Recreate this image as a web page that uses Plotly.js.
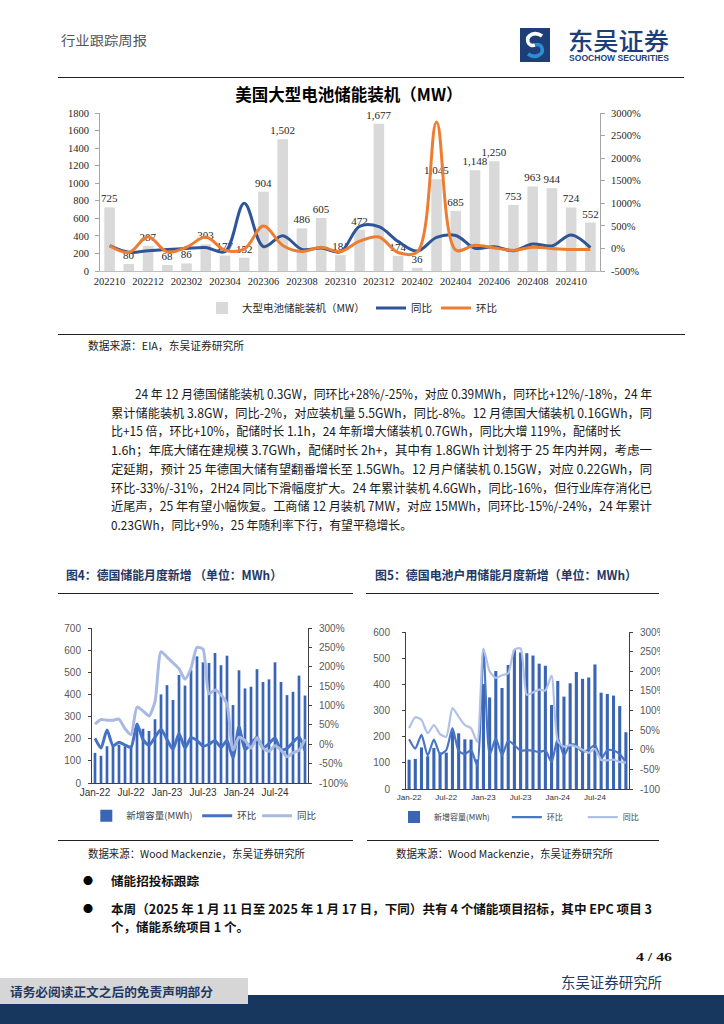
<!DOCTYPE html>
<html><head><meta charset="utf-8">
<script src="https://cdn.plot.ly/plotly-3.0.1.min.js"></script>
<style>
html,body{margin:0;padding:0;background:#fff}
body{width:724px;height:1024px;position:relative;overflow:hidden;font-family:"Noto Sans CJK SC","Noto Sans",sans-serif;color:#111}
.t{position:absolute;white-space:nowrap;height:20px;line-height:20px;transform-origin:0 50%}
.rule{position:absolute;height:0;border-top:1.5px solid #222}
.chart{position:absolute;overflow:hidden}
</style></head><body>

<!-- header -->
<div class="t" data-cy="40" data-w="86" style="left:61px;font-size:13px;color:#555">行业跟踪周报</div>
<svg style="position:absolute;left:520px;top:28px" width="30" height="34" viewBox="0 0 30 34">
  <rect x="0" y="0" width="30" height="34" fill="#1D3E77"/>
  <path d="M22,8 C15,3 6,7 8,14 C9,17 12,18 15,17" stroke="#fff" stroke-width="3.6" fill="none"/>
  <path d="M8,26 C15,31 24,27 22,20 C21,17 18,16 15,17" stroke="#2B8ED6" stroke-width="3.6" fill="none"/>
</svg>
<div class="t" data-cy="40" data-w="101" style="left:568px;font-size:24px;height:24px;line-height:24px;color:#1C3F7C;font-weight:500">东吴证券</div>
<div class="t" data-cy="58" data-w="100" style="left:569px;font-size:8.5px;height:10px;line-height:10px;color:#1C3F7C;font-weight:700;font-family:'Liberation Sans'">SOOCHOW SECURITIES</div>
<div class="rule" style="left:58px;width:626px;top:77px;z-index:5"></div>

<div class="chart" id="usChart" style="left:0;top:80px;width:724px;height:250px"></div>
<div class="rule" style="left:58px;width:627px;top:334px"></div>
<div class="t" data-cy="345" data-w="156" style="left:88px;font-size:10.8px;color:#222">数据来源：EIA，东吴证券研究所</div>

<!-- paragraph -->
<div id="para"></div>

<!-- figure titles -->
<div class="t" data-cy="575" data-w="216" style="left:66px;font-size:12.5px;font-weight:700;color:#1F3864">图4：德国储能月度新增 （单位：MWh）</div>
<div class="rule" style="left:58px;width:295px;top:593px"></div>
<div class="t" data-cy="575" data-w="262" style="left:375px;font-size:12.5px;font-weight:700;color:#1F3864">图5：德国电池户用储能月度新增（单位：MWh）</div>
<div class="rule" style="left:366px;width:293px;top:593px"></div>

<div class="chart" id="deChart" style="left:40px;top:600px;width:315px;height:235px"></div>
<div class="chart" id="deHomeChart" style="left:366px;top:600px;width:294px;height:235px"></div>

<div class="rule" style="left:58px;width:295px;top:840px"></div>
<div class="rule" style="left:367px;width:292px;top:840px"></div>
<div class="t" data-cy="853" data-w="217" style="left:88px;font-size:10.8px;color:#222">数据来源：Wood Mackenzie，东吴证券研究所</div>
<div class="t" data-cy="853" data-w="217" style="left:396px;font-size:10.8px;color:#222">数据来源：Wood Mackenzie，东吴证券研究所</div>

<div class="t" data-cy="881" style="left:83px;font-size:10px;color:#000">●</div>
<div class="t" data-cy="881" data-w="88" style="left:111px;font-size:12.5px;font-weight:700;color:#111">储能招投标跟踪</div>
<div class="t" data-cy="909" style="left:83px;font-size:10px;color:#000">●</div>
<div class="t" data-cy="909" data-w="541" style="left:111px;font-size:12.5px;font-weight:700;color:#111">本周（2025 年 1 月 11 日至 2025 年 1 月 17 日，下同）共有 4 个储能项目招标，其中 EPC 项目 3</div>
<div class="t" data-cy="927" data-w="138" style="left:111px;font-size:12.5px;font-weight:700;color:#111">个，储能系统项目 1 个。</div>

<div class="t" data-cy="957" data-w="36" style="left:636px;font-size:13px;font-weight:700;font-family:'Liberation Serif';color:#111">4 / 46</div>
<div style="position:absolute;left:0;top:995px;width:724px;height:29px;background:#17375E"></div>
<div style="position:absolute;left:0;top:978px;width:248px;height:26px;background:#D6D6D6"></div>
<div class="t" data-cy="992" data-w="203" style="left:10px;font-size:12.5px;font-weight:700;color:#1F3864">请务必阅读正文之后的免责声明部分</div>
<div class="t" data-cy="982" data-w="101" style="left:561px;font-size:14.5px;color:#1F3864">东吴证券研究所</div>

<script>
// ---------- US chart data ----------
const usMonths = ['202210','202211','202212','202301','202302','202303','202304','202305','202306','202307','202308','202309','202310','202311','202312','202401','202402','202403','202404','202405','202406','202407','202408','202409','202410','202411'];
const usInstalled = [725,80,287,68,86,303,177,152,904,1502,486,605,181,472,1677,174,36,1045,685,1148,1250,753,963,944,724,552];
const usYoY = [60,-85,-50,-22,0,20,-70,1000,40,280,-20,10,-75,490,484,156,-58,245,287,5,38,-50,98,56,300,17];
const usMoM = [60,-89,259,-76,26,252,-42,-14,495,66,-68,24,-70,161,255,-90,-79,2803,-34,68,9,-40,28,-2,-23,-24];
const usXTicks = ['202210','202212','202302','202304','202306','202308','202310','202312','202402','202404','202406','202408','202410'];
const usRightVals = [-500,0,500,1000,1500,2000,2500,3000];
const usRightText = ['-500%','0%','500%','1000%','1500%','2000%','2500%','3000%'];

// ---------- Germany data ----------
const deMonths = ['Jan-22','Feb-22','Mar-22','Apr-22','May-22','Jun-22','Jul-22','Aug-22','Sep-22','Oct-22','Nov-22','Dec-22',
 'Jan-23','Feb-23','Mar-23','Apr-23','May-23','Jun-23','Jul-23','Aug-23','Sep-23','Oct-23','Nov-23','Dec-23',
 'Jan-24','Feb-24','Mar-24','Apr-24','May-24','Jun-24','Jul-24','Aug-24','Sep-24','Oct-24','Nov-24','Dec-24'];
const deXTicks = ['Jan-22','Jul-22','Jan-23','Jul-23','Jan-24','Jul-24'];
const deNew = [136,123,166,169,173,166,169,265,245,235,288,400,442,375,488,440,510,572,545,542,587,532,575,352,509,427,435,514,456,468,545,456,397,412,485,395];
const deMoM = [15,-10,37,-4,5,-2,-8,52,12,-3,18,39,12,-13,28,-10,17,10,-5,0,10,-8,10,-35,45,-14,2,18,-10,2,16,-15,-11,5,19,-17];
const deYoY = [52,64,62,62,65,40,25,96,86,73,110,239,225,210,195,168,196,250,245,130,140,128,104,-15,18,10,-10,17,-10,-18,-4,-15,-32,-22,-16,13];
const deRightVals = [-100,-50,0,50,100,150,200,250,300];
const deRightText = ['-100%','-50%','0%','50%','100%','150%','200%','250%','300%'];

const deHomeNew = [112,115,159,125,157,140,139,220,213,190,189,113,401,350,451,386,474,532,522,519,510,479,471,321,413,353,404,447,421,426,476,368,363,357,317,217];
const deHomeMoM = [27,3,38,-15,26,-11,-1,55,-3,-11,-1,-40,255,-13,29,-14,23,12,-2,-1,-2,-6,-2,-32,29,-15,14,11,-6,1,12,-23,-1,-2,-11,-32];
const deHomeYoY = [55,83,76,42,63,40,33,106,84,63,55,20,258,200,183,190,195,255,258,140,146,153,151,189,22,8,12,8,0,-8,2,-26,-27,-25,-31,-33];

// ---------- paragraph ----------
const paraLines = [
 '24 年 12 月德国储能装机 0.3GW，同环比+28%/-25%，对应 0.39MWh，同环比+12%/-18%，24 年',
 '累计储能装机 3.8GW，同比-2%，对应装机量 5.5GWh，同比-8%。12 月德国大储装机 0.16GWh，同',
 '比+15 倍，环比+10%，配储时长 1.1h，24 年新增大储装机 0.7GWh，同比大增 119%，配储时长',
 '1.6h；年底大储在建规模 3.7GWh，配储时长 2h+，其中有 1.8GWh 计划将于 25 年内并网，考虑一',
 '定延期，预计 25 年德国大储有望翻番增长至 1.5GWh。12 月户储装机 0.15GW，对应 0.22GWh，同',
 '环比-33%/-31%，2H24 同比下滑幅度扩大。24 年累计装机 4.6GWh，同比-16%，但行业库存消化已',
 '近尾声，25 年有望小幅恢复。工商储 12 月装机 7MW，对应 15MWh，同环比-15%/-24%，24 年累计',
 '0.23GWh，同比+9%，25 年随利率下行，有望平稳增长。'
];
const paraLeft = [135,111,111,111,111,111,111,111];
const paraRight = [652,652,621,652,652,652,652,412];
const para = document.getElementById('para');
paraLines.forEach((s,i)=>{
  const d = document.createElement('div');
  d.className='t';
  d.textContent = s;
  d.dataset.cy = 394 + 18.7*i;
  d.dataset.w = paraRight[i]-paraLeft[i];
  d.style.left = paraLeft[i]+'px';
  d.style.fontSize='12.5px';
  d.style.color='#1a1a1a';
  para.appendChild(d);
});

function place(){
  document.querySelectorAll('.t').forEach(el=>{
    const h = el.getBoundingClientRect().height;
    el.style.top = (parseFloat(el.dataset.cy) - h/2) + 'px';
    if(el.dataset.w){
      el.style.transform='none';
      const w = el.getBoundingClientRect().width;
      el.style.transform = 'scaleX(' + (parseFloat(el.dataset.w)/w) + ')';
    }
  });
}
place();
if(document.fonts && document.fonts.ready) document.fonts.ready.then(place);

const cfg = {staticPlot:true, displayModeBar:false};
const serif = 'Liberation Serif';
const cjk = 'Noto Sans CJK SC';

function leg(x, y, size, color){
  return {orientation:'h', x:x, xanchor:'left', y:y, yanchor:'middle', bgcolor:'rgba(0,0,0,0)',
          font:{family:cjk, size:size, color:color}};
}

// ---------- US chart ----------
Plotly.newPlot('usChart', [
  {type:'bar', x:usMonths, y:usInstalled, name:'大型电池储能装机（MW）', marker:{color:'#D9D9D9'}, width:0.55,
   texttemplate:'%{y:,}', textposition:'outside', cliponaxis:false, constraintext:'none',
   textfont:{family:serif, size:11, color:'#262626'}, legend:'legend'},
  {type:'scatter', mode:'lines', x:usMonths, y:usYoY, yaxis:'y2', name:'同比',
   line:{color:'#2F5597', width:3, shape:'spline', smoothing:1}, legend:'legend2'},
  {type:'scatter', mode:'lines', x:usMonths, y:usMoM, yaxis:'y2', name:'环比',
   line:{color:'#ED7D31', width:3, shape:'spline', smoothing:1}, legend:'legend3'}
], {
  width:724, height:250, margin:{l:100, r:124, t:33, b:59, autoexpand:false},
  paper_bgcolor:'rgba(0,0,0,0)', plot_bgcolor:'rgba(0,0,0,0)',
  title:{text:'美国大型电池储能装机（MW）', font:{family:cjk, size:16.5, color:'#000', weight:700},
         x:0.482, xref:'container', xanchor:'center', y:1-15/250, yref:'container', yanchor:'middle'},
  xaxis:{type:'category', tickvals:usXTicks, range:[-0.5,25.5], showline:true, linecolor:'#BFBFBF', linewidth:1,
         ticks:'', showgrid:false, tickfont:{family:serif, size:10.5, color:'#262626'}},
  yaxis:{range:[0,1800], dtick:200, showgrid:false, zeroline:false, showline:true, linecolor:'#A6A6A6',
         ticks:'outside', ticklen:4, tickcolor:'#A6A6A6', ticklabelstandoff:4, tickfont:{family:serif, size:10.5, color:'#262626'}},
  yaxis2:{overlaying:'y', side:'right', range:[-500,3000], tickvals:usRightVals, ticktext:usRightText, showgrid:false, zeroline:false,
          showline:true, linecolor:'#A6A6A6', ticks:'outside', ticklen:4, tickcolor:'#A6A6A6', ticklabelstandoff:4,
          tickfont:{family:serif, size:10.5, color:'#262626'}},
  showlegend:true,
  legend: leg((202-100)/500, -37/158, 10.5, '#262626'),
  legend2: leg((371-100)/500, -37/158, 10.5, '#262626'),
  legend3: leg((436-100)/500, -37/158, 10.5, '#262626')
}, cfg);

// ---------- Germany charts ----------
function deLayout(w, h, m, pl, pw, ph, starts, legendY, xFont, legFont, standoffL){
  const tf = {family:'Liberation Sans', size:10, color:'#595959'};
  return {
    width:w, height:h, margin:m, paper_bgcolor:'rgba(0,0,0,0)', plot_bgcolor:'rgba(0,0,0,0)',
    xaxis:{type:'category', tickvals:deXTicks, range:[-0.5,35.5], showline:true, linecolor:'#404040', linewidth:1,
           ticks:'', showgrid:false, tickfont:{family:'Liberation Sans', size:xFont, color:'#333'}},
    yaxis:{range:[0,700], dtick:100, showgrid:false, zeroline:false, showline:true, linecolor:'#404040',
           ticks:'outside', ticklen:3, tickcolor:'#404040', ticklabelstandoff:standoffL, tickfont:tf},
    yaxis2:{overlaying:'y', side:'right', range:[-100,300], tickvals:deRightVals, ticktext:deRightText, showgrid:false, zeroline:false,
            showline:true, linecolor:'#404040', ticks:'outside', ticklen:3, tickcolor:'#404040', ticklabelstandoff:5, tickfont:tf},
    showlegend:true,
    legend: leg((starts[0]-pl)/pw, legendY, legFont, '#404040'),
    legend2: leg((starts[1]-pl)/pw, legendY, legFont, '#404040'),
    legend3: leg((starts[2]-pl)/pw, legendY, legFont, '#404040')
  };
}

Plotly.newPlot('deChart', [
  {type:'bar', x:deMonths, y:deNew, name:'新增容量(MWh)', marker:{color:'#3A64B4'}, width:0.45, legend:'legend'},
  {type:'scatter', mode:'lines', x:deMonths, y:deMoM, yaxis:'y2', name:'环比', line:{color:'#4472C4', width:3, shape:'spline', smoothing:0.6}, legend:'legend2'},
  {type:'scatter', mode:'lines', x:deMonths, y:deYoY, yaxis:'y2', name:'同比', line:{color:'#A9BAE2', width:3, shape:'spline', smoothing:0.6}, legend:'legend3'}
], deLayout(315, 235, {l:52, r:47, t:28, b:52, autoexpand:false}, 91.7, 216.3, 155, [86,197,257], -32.7/155, 10, 9.5, 5), cfg);

const homeLayout = deLayout(294, 235, {l:40, r:31, t:32, b:46, autoexpand:false}, 406, 223.3, 156.4, [394,507,583], -28/156.4, 8, 8, 10);
homeLayout.yaxis.range = [0,600];
Plotly.newPlot('deHomeChart', [
  {type:'bar', x:deMonths, y:deHomeNew, name:'新增容量(MWh)', marker:{color:'#3A64B4'}, width:0.5, legend:'legend'},
  {type:'scatter', mode:'lines', x:deMonths, y:deHomeMoM, yaxis:'y2', name:'环比', line:{color:'#4A76C6', width:2.2, shape:'spline', smoothing:0.6}, legend:'legend2'},
  {type:'scatter', mode:'lines', x:deMonths, y:deHomeYoY, yaxis:'y2', name:'同比', line:{color:'#B0C1E8', width:2.2, shape:'spline', smoothing:0.6}, legend:'legend3'}
], homeLayout, cfg);
</script>
</body></html>
